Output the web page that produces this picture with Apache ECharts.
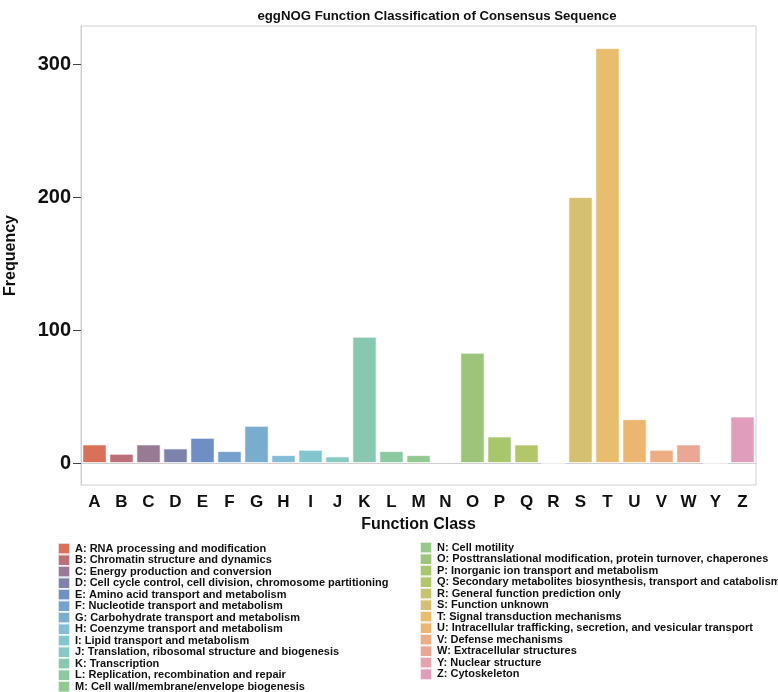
<!DOCTYPE html>
<html>
<head>
<meta charset="utf-8">
<script src="https://cdn.jsdelivr.net/npm/echarts@6/dist/echarts.min.js"></script>
<style>
  html, body { margin: 0; padding: 0; background: #fff; }
  #chart { width: 778px; height: 692px; }
</style>
</head>
<body>
<div id="chart"></div>
<script>
// function classes
var classes = ["A", "B", "C", "D", "E", "F", "G", "H", "I", "J", "K", "L", "M",
  "N", "O", "P", "Q", "R", "S", "T", "U", "V", "W", "Y", "Z"]
// frequency of each class
var counts = [14, 7, 14, 11, 19, 9, 28, 6, 10, 5, 95, 9, 6,
  1, 83, 20, 14, 0, 200, 312, 33, 10, 14, 0, 35]
var descriptions = [
  "A: RNA processing and modification",
  "B: Chromatin structure and dynamics",
  "C: Energy production and conversion",
  "D: Cell cycle control, cell division, chromosome partitioning",
  "E: Amino acid transport and metabolism",
  "F: Nucleotide transport and metabolism",
  "G: Carbohydrate transport and metabolism",
  "H: Coenzyme transport and metabolism",
  "I: Lipid transport and metabolism",
  "J: Translation, ribosomal structure and biogenesis",
  "K: Transcription",
  "L: Replication, recombination and repair",
  "M: Cell wall/membrane/envelope biogenesis",
  "N: Cell motility",
  "O: Posttranslational modification, protein turnover, chaperones",
  "P: Inorganic ion transport and metabolism",
  "Q: Secondary metabolites biosynthesis, transport and catabolism",
  "R: General function prediction only",
  "S: Function unknown",
  "T: Signal transduction mechanisms",
  "U: Intracellular trafficking, secretion, and vesicular transport",
  "V: Defense mechanisms",
  "W: Extracellular structures",
  "Y: Nuclear structure",
  "Z: Cytoskeleton"
]
var colors = ["#D9705A", "#BC6F78", "#987A94", "#7C82AA", "#6E8EC4", "#76A0CE", "#7AACCE",
  "#82BCD6", "#84C6D0", "#88CAC2", "#88C8B0", "#8CC8A0", "#92C892",
  "#98C88C", "#9EC47C", "#A8C66C", "#B4C66A", "#C6C46C", "#D4C070", "#E8BE6E",
  "#ECB672", "#EEAE84", "#ECA696", "#E8A2AE", "#E09EBC"]
var yTicks = [0, 100, 200, 300]

var chart = echarts.init(document.getElementById("chart"))

// one series per class so each one gets its own legend entry
var series = classes.map(function (c, i) {
  return {
    name: descriptions[i],
    type: "bar",
    stack: "all",
    barCategoryGap: "10%",
    itemStyle: {
      color: colors[i],
      borderColor: "rgba(255,255,255,0.7)",
      borderWidth: 1
    },
    data: classes.map(function (d, j) { return j === i ? counts[i] : "-" })
  }
})

var legendBase = {
  orient: "vertical",
  icon: "rect",
  itemWidth: 12,
  itemHeight: 11.5,
  itemGap: -2,
  height: 300,
  selectedMode: false,
  padding: 0,
  textStyle: {
    color: "#111",
    fontFamily: "Liberation Sans, Arial, sans-serif",
    fontWeight: "bold",
    fontSize: 11
  }
}

var option = {
  animation: false,
  color: colors,
  title: {
    text: "eggNOG Function Classification of Consensus Sequence",
    left: 432,
    top: 5,
    textAlign: "center",
    textStyle: {
      fontFamily: "Liberation Sans, Arial, sans-serif",
      fontWeight: "bold",
      fontSize: 13.2,
      color: "#111"
    }
  },
  grid: {
    left: 81,
    right: 22,
    top: 26,
    bottom: 207,
    outerBoundsMode: "none",
    containLabel: false,
    show: true,
    borderColor: "#cfcfcf",
    borderWidth: 1
  },
  legend: [
    Object.assign({}, legendBase, { left: 57, top: 542, data: descriptions.slice(0, 13) }),
    Object.assign({}, legendBase, { left: 419, top: 541, data: descriptions.slice(13) })
  ],
  xAxis: {
    type: "category",
    data: classes,
    name: "Function Class",
    nameLocation: "middle",
    nameGap: 32,
    nameTextStyle: {
      fontFamily: "Liberation Sans, Arial, sans-serif",
      fontWeight: "bold",
      fontSize: 16,
      color: "#111"
    },
    axisLine: { lineStyle: { color: "#cfcfcf" } },
    axisTick: { alignWithLabel: true, length: 6, lineStyle: { color: "#444" } },
    axisLabel: {
      margin: 9,
      fontFamily: "Liberation Sans, Arial, sans-serif",
      fontWeight: "bold",
      fontSize: 17,
      color: "#111"
    }
  },
  yAxis: {
    type: "value",
    min: -16.5,
    max: 328.6,
    name: "Frequency",
    nameLocation: "middle",
    nameGap: 62,
    nameTextStyle: {
      fontFamily: "Liberation Sans, Arial, sans-serif",
      fontWeight: "bold",
      fontSize: 16,
      color: "#111"
    },
    splitLine: { show: false },
    axisLine: { show: true, lineStyle: { color: "#cfcfcf" } },
    axisTick: { show: true, length: 8, customValues: yTicks, lineStyle: { color: "#444" } },
    axisLabel: {
      customValues: yTicks,
      margin: 10,
      fontFamily: "Liberation Sans, Arial, sans-serif",
      fontWeight: "bold",
      fontSize: 20,
      color: "#111"
    }
  },
  series: series
}

chart.setOption(option)
</script>
</body>
</html>
